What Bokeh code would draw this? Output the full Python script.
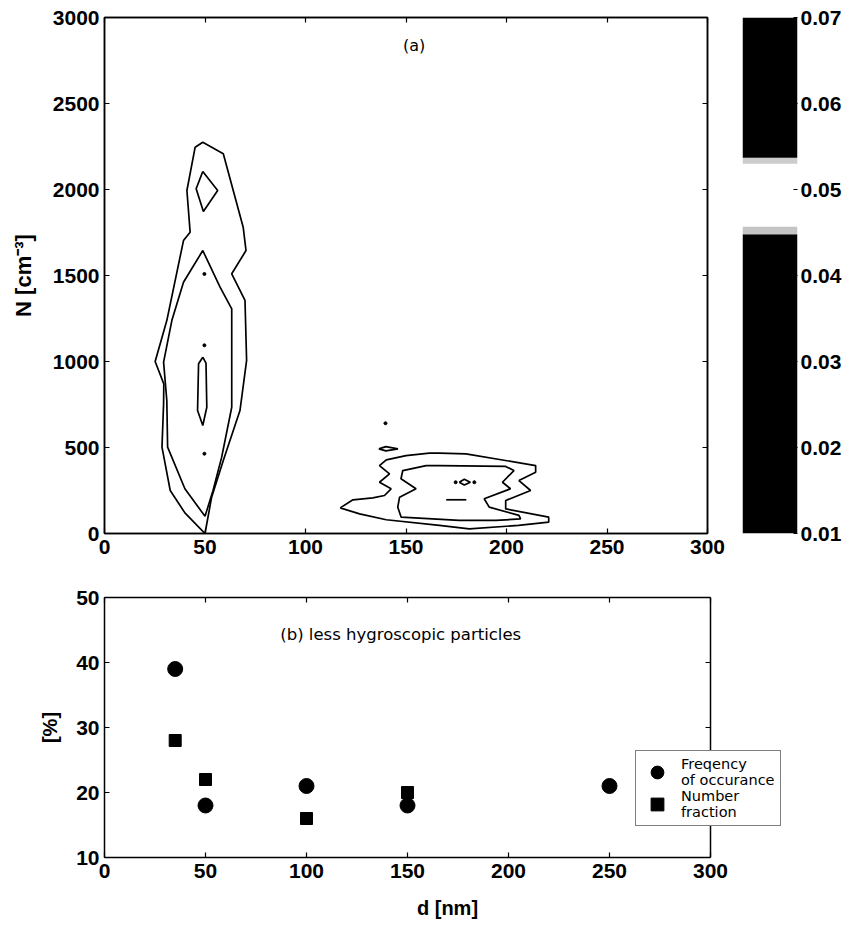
import numpy as np
from bokeh.plotting import figure
from bokeh.models import (Range1d, LinearAxis, FixedTicker, Legend, LegendItem,
                          Label, CustomJSTickFormatter, Span)
from bokeh.layouts import column, row
from bokeh.embed import file_html
from bokeh.resources import INLINE

FONT = "Liberation Sans"
TFONT = "DejaVu Sans"

# ---------------- (a) contour lines: d [nm], N [cm^-3]
left_outer_d = [50, 40, 32.7, 28.6, 29.4, 29.5, 25.2, 31, 39.3, 42.6, 41, 45.1, 48.9,
                59.1, 69, 70.4, 63.3, 69.9, 70.7, 67.4, 59.1, 53.3, 50]
left_outer_n = [0, 120, 250, 502, 754, 870, 1000, 1238, 1703, 1752, 1994, 2246, 2275,
                2208, 1781, 1645, 1510, 1355, 1006, 715, 424, 211, 0]
left_mid_d = [50, 40, 31.4, 31, 29.4, 33.5, 39.3, 48.9, 57.5, 63.3, 63.3, 63.3, 58.3, 54, 50]
left_mid_n = [100, 260, 502, 773, 996, 1238, 1461, 1645, 1432, 1306, 1238, 734, 444, 250, 100]
left_top_d = [48.9, 56.3, 49.2, 45.6, 48.9]
left_top_n = [2105, 1994, 1872, 2004, 2105]
left_core_d = [48.9, 50.5, 50.9, 48.9, 46.3, 46.8, 48.9]
left_core_n = [1025, 990, 734, 628, 715, 987, 1025]
right_outer_d = [117.3, 126.9, 140.2, 166.6, 181.5, 206, 221, 221, 199.6, 199.6, 212, 206.2,
                 214.5, 214.5, 179.8, 166.6, 161.6, 150, 140.2, 136.8, 141.8, 136.8, 142.6,
                 139.3, 133.5, 123.6, 117.3]
right_outer_n = [149, 114, 80, 47, 27, 47, 66, 95, 143, 192, 250, 308, 356, 395, 463, 467,
                 467, 453, 428, 395, 347, 298, 260, 221, 207, 196, 149]
right_mid_d = [160, 148.4, 147.5, 155, 146.8, 145.9, 147.6, 176.5, 194.7, 207, 206.2, 191.4,
               188.9, 202, 198, 203.7, 199.6, 166.6, 160]
right_mid_n = [395, 366, 318, 260, 211, 153, 95, 76, 76, 85, 105, 153, 202, 260, 298, 366,
               390, 395, 395]
right_small_d = [136.5, 140, 146, 140, 136.5]
right_small_n = [492, 505, 492, 480, 492]
right_ring_d = [176.5, 179, 182, 179, 176.5]
right_ring_n = [298, 315, 298, 282, 298]
right_dash_d = [170, 180]
right_dash_n = [196, 196]
dots_d = [49.7, 49.7, 49.7, 139.8, 174.7, 184]
dots_n = [1094, 1509, 464, 641, 298, 298]

contours_d = [left_outer_d, left_mid_d, left_top_d, left_core_d, right_outer_d,
              right_mid_d, right_small_d, right_ring_d, right_dash_d]
contours_n = [left_outer_n, left_mid_n, left_top_n, left_core_n, right_outer_n,
              right_mid_n, right_small_n, right_ring_n, right_dash_n]

# colour bar bands
cbar_bottom = [0.01, 0.0448, 0.0457, 0.0530, 0.0537]
cbar_top = [0.0448, 0.0457, 0.0530, 0.0537, 0.07]
cbar_colors = ["black", "#c4c4c4", "white", "#cccccc", "black"]
cbar_ticks = [0.01, 0.02, 0.03, 0.04, 0.05, 0.06, 0.07]

# ---------------- (b) less hygroscopic particles
freq_d = [35, 50, 100, 150, 250]
freq_pct = [39, 18, 21, 18, 21]
num_d = [35, 50, 100, 150]
num_pct = [28, 22, 16, 20]

x_ticks = [0, 50, 100, 150, 200, 250, 300]
n_ticks = [0, 500, 1000, 1500, 2000, 2500, 3000]
pct_ticks = [10, 20, 30, 40, 50]

TICK_SIZE = "21px"


def base_axis_style(ax, ticks):
    ax.ticker = FixedTicker(ticks=ticks)
    ax.major_tick_in = 5
    ax.major_tick_out = 0
    ax.minor_tick_in = 0
    ax.minor_tick_out = 0
    ax.axis_line_color = "black"
    ax.axis_line_width = 1.5
    ax.major_tick_line_color = "black"
    ax.major_tick_line_width = 1.2
    ax.major_label_text_font = FONT
    ax.major_label_text_font_style = "bold"
    ax.major_label_text_font_size = TICK_SIZE
    ax.major_label_text_color = "black"
    ax.axis_label_text_font = FONT
    ax.axis_label_text_font_style = "bold"
    ax.axis_label_text_color = "black"


def blank_axis(ticks, bounds="auto"):
    return LinearAxis(ticker=FixedTicker(ticks=ticks), bounds=bounds,
                      formatter=CustomJSTickFormatter(code="return ''"),
                      major_label_text_font_size="1px", major_label_standoff=0,
                      major_tick_in=5, major_tick_out=0, minor_tick_in=0,
                      minor_tick_out=0, axis_line_color="black", axis_line_width=1.5,
                      major_tick_line_color="black", major_tick_line_width=1.2)


# ---------------- top panel (a)
top = figure(width=742, height=580, output_backend="svg", toolbar_location=None,
             x_range=Range1d(0, 300), y_range=Range1d(0, 3000),
             min_border_left=104, min_border_right=35, min_border_top=17,
             min_border_bottom=47)
top.outline_line_color = "black"
top.outline_line_width = 1.5
top.xgrid.visible = False
top.ygrid.visible = False
base_axis_style(top.xaxis[0], x_ticks)
base_axis_style(top.yaxis[0], n_ticks)
top.xaxis[0].major_label_standoff = 6
top.yaxis[0].major_label_standoff = 5
top.yaxis[0].axis_label = "N [cm\u207b\u00b3]"
top.yaxis[0].axis_label_text_font_size = "22px"
top.yaxis[0].axis_label_standoff = 14
top.add_layout(blank_axis(x_ticks), "above")
top.add_layout(blank_axis(n_ticks), "right")
top.multi_line(xs=contours_d, ys=contours_n, line_color="black", line_width=1.7)
top.scatter(dots_d, dots_n, size=3, color="black")
top.add_layout(Label(x=154, y=2840, text="(a)", text_font=TFONT, text_font_size="16px",
                     text_align="center", text_baseline="middle", text_color="black"))

# ---------------- colour bar
cbar = figure(width=109, height=580, output_backend="svg", toolbar_location=None,
              x_range=Range1d(0, 1), y_range=Range1d(0.01, 0.07),
              x_axis_location=None, y_axis_location="right",
              min_border_left=0, min_border_right=54, min_border_top=17,
              min_border_bottom=47)
cbar.outline_line_color = None
cbar.xgrid.visible = False
cbar.ygrid.visible = False
cbar.quad(left=0, right=1, bottom=cbar_bottom, top=cbar_top, fill_color=cbar_colors,
          line_color=None)
cax = cbar.yaxis[0]
base_axis_style(cax, cbar_ticks)
cax.axis_line_color = None
cax.major_tick_in = 4
cax.major_label_standoff = 3

# ---------------- bottom panel (b)
# frame is widened to the right (past d = 300) so the legend box can overhang the axes
X_EXTRA = 339.6
bot = figure(width=851, height=356, output_backend="svg", toolbar_location=None,
             x_range=Range1d(0, X_EXTRA), y_range=Range1d(10, 50),
             min_border_left=104, min_border_right=61, min_border_top=17,
             min_border_bottom=79)
bot.outline_line_color = None
bot.xgrid.visible = False
bot.ygrid.visible = False
base_axis_style(bot.xaxis[0], x_ticks)
base_axis_style(bot.yaxis[0], pct_ticks)
bot.xaxis[0].bounds = (0, 300)
bot.xaxis[0].major_label_standoff = 6
bot.xaxis[0].axis_label = "d [nm]"
bot.xaxis[0].axis_label_text_font_size = "20px"
bot.xaxis[0].axis_label_standoff = 16
bot.yaxis[0].major_label_standoff = 5
bot.yaxis[0].axis_label = "[%]"
bot.yaxis[0].axis_label_text_font_size = "20px"
bot.yaxis[0].axis_label_standoff = 12
bot.add_layout(blank_axis(x_ticks, bounds=(0, 300)), "above")
bot.add_layout(Span(location=300, dimension="height", line_color="black", line_width=1.5))
bot.ray(x=300, y=pct_ticks, length=5, length_units="screen", angle=np.pi,
        line_color="black", line_width=1.2)

r_freq = bot.scatter(freq_d, freq_pct, marker="circle", size=15, color="black")
r_num = bot.scatter(num_d, num_pct, marker="square", size=12, color="black")
bot.add_layout(Label(x=87, y=44.3, text="(b) less hygroscopic particles", text_font=TFONT,
                     text_font_size="16.5px", text_align="left", text_baseline="middle",
                     text_color="black"))
legend = Legend(items=[LegendItem(label="Freqency\nof occurance", renderers=[r_freq]),
                       LegendItem(label="Number\nfraction", renderers=[r_num])],
                location=(531, 31), border_line_color="black", border_line_width=1.5,
                background_fill_color="white", background_fill_alpha=1,
                label_text_font=TFONT, label_text_font_size="14.5px",
                label_text_color="black", glyph_width=32, glyph_height=32,
                padding=5, spacing=0, label_standoff=8, margin=0)
bot.add_layout(legend)

layout = column(row(top, cbar, spacing=0), bot, spacing=0)
open("out.html", "w").write(file_html(layout, INLINE))
